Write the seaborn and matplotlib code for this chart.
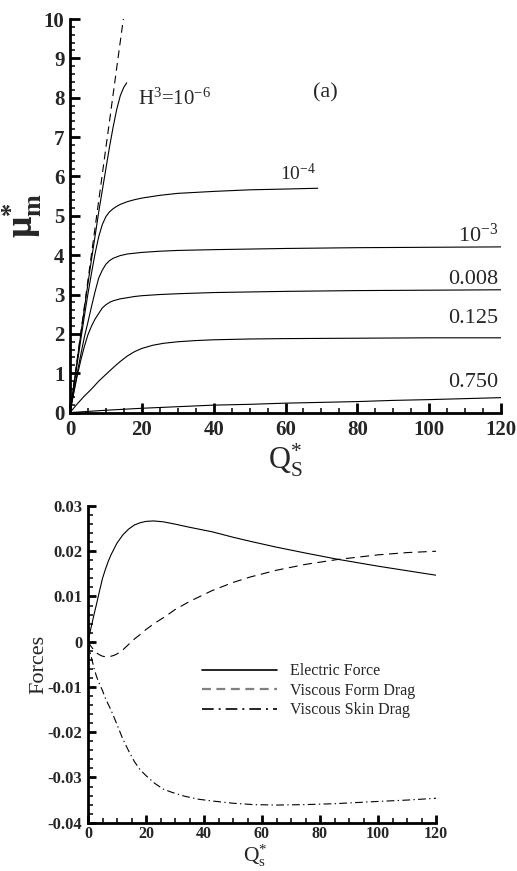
import numpy as np
import pandas as pd
import matplotlib
matplotlib.use("Agg")
import matplotlib.pyplot as plt
from matplotlib.ticker import MultipleLocator, FixedLocator, FixedFormatter
import seaborn as sns

# ---- upper panel: modified mobility vs. surface charge --------------------
limit_x = [0.0, 14.85]
limit_y = [0.0, 10.0]

h6_x = [0, 1, 2, 3, 4, 5, 6, 7, 8, 9, 10, 11, 12, 13, 14, 15, 15.8]
h6_y = [0, 0.67, 1.33, 1.99, 2.64, 3.28, 3.9, 4.5, 5.1, 5.65, 6.2, 6.75, 7.25,
        7.7, 8.05, 8.27, 8.38]

h4_x = [0, 1, 2, 3, 4, 5, 6, 7, 8, 9, 10, 11, 12, 13, 14, 16, 18, 20, 25, 30,
        40, 50, 60, 69]
h4_y = [0, 0.62, 1.24, 1.85, 2.45, 3.02, 3.55, 4.05, 4.47, 4.78, 4.98, 5.1, 5.18,
        5.24, 5.29, 5.36, 5.41, 5.45, 5.52, 5.57, 5.62, 5.66, 5.68, 5.7]

h3_x = [0, 1, 2, 3, 4, 5, 6, 7, 8, 9, 10, 11, 12, 14, 16, 18, 20, 25, 30, 40,
        60, 80, 100, 120]
h3_y = [0, 0.5, 1.0, 1.47, 1.92, 2.3, 2.7, 3.08, 3.42, 3.62, 3.77, 3.86, 3.92,
        3.99, 4.03, 4.05, 4.07, 4.1, 4.12, 4.14, 4.17, 4.19, 4.2, 4.21]

h008_x = [0, 1, 2, 3, 4, 5, 6, 7, 8, 9, 10, 11, 12, 14, 16, 18, 20, 25, 30, 40,
          60, 80, 100, 120]
h008_y = [0, 0.48, 0.93, 1.33, 1.68, 1.98, 2.2, 2.38, 2.52, 2.66, 2.74, 2.8, 2.84,
          2.89, 2.92, 2.95, 2.97, 3.0, 3.02, 3.05, 3.08, 3.1, 3.11, 3.12]

h125_x = [0, 1, 2, 3, 4, 5, 6, 8, 10, 12, 14, 16, 18, 20, 23, 26, 30, 35, 40,
          50, 60, 80, 100, 120]
h125_y = [0, 0.11, 0.22, 0.32, 0.42, 0.51, 0.6, 0.8, 0.97, 1.14, 1.3, 1.44, 1.55,
          1.63, 1.71, 1.76, 1.8, 1.83, 1.85, 1.87, 1.88, 1.89, 1.9, 1.9]

h750_x = [0, 5, 10, 15, 20, 30, 40, 50, 60, 70, 80, 90, 100, 110, 120]
h750_y = [0, 0.03, 0.06, 0.085, 0.11, 0.15, 0.19, 0.21, 0.24, 0.26, 0.28, 0.31,
          0.33, 0.355, 0.38]

top_xticks = [0, 20, 40, 60, 80, 100, 120]
top_yticks = [0, 1, 2, 3, 4, 5, 6, 7, 8, 9, 10]

# ---- lower panel: force components ---------------------------------------
ef_x = [0, 1, 2, 3, 4, 5, 6, 7, 8, 10, 12, 14, 16, 18, 20, 22.6, 26, 30, 35,
        42.8, 50, 55.9, 65, 75, 86.3, 100, 110, 120]
ef_y = [0, 0.0030, 0.0058, 0.0085, 0.0113, 0.0140, 0.0160, 0.0178, 0.0193,
        0.0218, 0.0236, 0.0249, 0.0258, 0.0263, 0.0266, 0.0267, 0.0265, 0.0260,
        0.0253, 0.0243, 0.0231, 0.0222, 0.0209, 0.0196, 0.0182, 0.0167, 0.0157,
        0.0147]

fd_x = [0, 1, 2, 3, 4, 5, 6, 7, 8, 9, 10, 12, 14, 16, 18, 20, 23, 26.7, 30, 35,
        42.8, 50, 55.9, 65, 75, 86.3, 100, 110, 120]
fd_y = [0, -0.0010, -0.0018, -0.0025, -0.0029, -0.0032, -0.0033, -0.0033,
        -0.0032, -0.0030, -0.0027, -0.0018, -0.0006, 0.0006, 0.0016, 0.0027,
        0.0041, 0.0056, 0.0071, 0.0089, 0.0113, 0.0131, 0.0143, 0.0158, 0.0171,
        0.0182, 0.0192, 0.0197, 0.0200]

sd_x = [0, 1, 2, 3, 4, 5, 6, 8, 10, 12, 14, 16, 18, 20, 23, 26, 29, 33, 38,
        42.8, 50, 57, 65, 75, 85, 100, 110, 120]
sd_y = [0, -0.0030, -0.0057, -0.0078, -0.0094, -0.0108, -0.0125, -0.0152,
        -0.0183, -0.0215, -0.0241, -0.0265, -0.0283, -0.0296, -0.0313, -0.0326,
        -0.0333, -0.0341, -0.0348, -0.0352, -0.0357, -0.0360, -0.0361, -0.0360,
        -0.0358, -0.0353, -0.0350, -0.0346]

bot_xticks = [0, 20, 40, 60, 80, 100, 120]
bot_yticks = [-0.04, -0.03, -0.02, -0.01, 0, 0.01, 0.02, 0.03]
bot_ylabels = ["-0.04", "-0.03", "-0.02", "-0.01", "0", "0.01", "0.02", "0.03"]

# ---- style -----------------------------------------------------------------
sns.set_theme(style="ticks")
plt.rcParams["font.family"] = ["Liberation Serif", "DejaVu Serif"]
plt.rcParams["mathtext.fontset"] = "custom"
plt.rcParams["mathtext.rm"] = "Liberation Serif"
plt.rcParams["mathtext.it"] = "Liberation Serif:italic"
plt.rcParams["mathtext.bf"] = "Liberation Serif:bold"
plt.rcParams["mathtext.default"] = "regular"

fig = plt.figure(figsize=(5.17, 8.71), dpi=100)
ax1 = fig.add_axes([70 / 517, 1 - 412.6 / 871, 431 / 517, 393.6 / 871])
ax2 = fig.add_axes([88 / 517, 1 - 822.7 / 871, 348 / 517, 316.7 / 871])

LW = 0.8


def curve(ax, xs, ys, **kw):
    df = pd.DataFrame({"x": xs, "y": ys})
    sns.lineplot(data=df, x="x", y="y", ax=ax, color="black", lw=LW,
                 sort=False, estimator=None, **kw)


curve(ax1, limit_x, limit_y, dashes=(7, 4.5))
for xs, ys in [(h6_x, h6_y), (h4_x, h4_y), (h3_x, h3_y),
               (h008_x, h008_y), (h125_x, h125_y), (h750_x, h750_y)]:
    curve(ax1, xs, ys)

curve(ax2, ef_x, ef_y, label="Electric Force")
curve(ax2, fd_x, fd_y, dashes=(8, 5), label="Viscous Form Drag")
curve(ax2, sd_x, sd_y, dashes=(7, 3, 1.2, 3), label="Viscous Skin Drag")


def frame(ax, major_len, tick_fs, xpad, ypad):
    for s in ["top", "right"]:
        ax.spines[s].set_visible(False)
    for s in ["left", "bottom"]:
        ax.spines[s].set_linewidth(2.0)
        ax.spines[s].set_color("black")
    ax.tick_params(which="major", direction="in", length=major_len, width=2.0,
                   color="black", labelsize=tick_fs)
    ax.tick_params(axis="x", which="major", pad=xpad)
    ax.tick_params(axis="y", which="major", pad=ypad)
    ax.tick_params(which="minor", direction="in", length=major_len * 0.55,
                   width=1.1, color="black")
    for lab in ax.get_xticklabels() + ax.get_yticklabels():
        lab.set_fontweight("bold")
    ax.grid(False)


ax1.set_xlim(0, 120)
ax1.set_ylim(0, 10)
ax1.xaxis.set_major_locator(FixedLocator(top_xticks))
ax1.yaxis.set_major_locator(FixedLocator(top_yticks))
ax1.xaxis.set_minor_locator(MultipleLocator(5))
ax1.yaxis.set_minor_locator(MultipleLocator(0.2))
frame(ax1, 7, 15, 5.5, 4)

ax2.set_xlim(0, 120)
ax2.set_ylim(-0.04, 0.03)
ax2.xaxis.set_major_locator(FixedLocator(bot_xticks))
ax2.yaxis.set_major_locator(FixedLocator(bot_yticks))
ax2.yaxis.set_major_formatter(FixedFormatter(bot_ylabels))
ax2.xaxis.set_minor_locator(MultipleLocator(5))
ax2.yaxis.set_minor_locator(MultipleLocator(0.002))
frame(ax2, 6, 12, 2.5, 4)
ax2.tick_params(axis="x", which="major", labelsize=11.5)
for lab in ax2.get_xticklabels():
    lab.set_fontweight("bold")

# axis titles
ax1.set_ylabel(r"$\mathregular{μ^{*}_{m}}$", fontsize=27, fontweight="bold")
ax1.yaxis.set_label_coords(-0.06, 0.5)
ax1.set_xlabel(r"$Q^{*}_{S}$", fontsize=22)
ax1.xaxis.set_label_coords(0.5, -0.075)

ax2.set_ylabel("Forces", fontsize=16)
ax2.yaxis.set_label_coords(-0.115, 0.5)
ax2.set_xlabel(r"$Q^{*}_{s}$", fontsize=15.5)
ax2.xaxis.set_label_coords(0.48, -0.063)

# curve labels
ax1.text(18.9, 7.81, r"$H^{3}$=10$^{-6}$", fontsize=15, ha="left", va="baseline")
ax1.text(71, 8.12, "(a)", fontsize=16, ha="center", va="center")
ax1.text(68.5, 5.9, r"10$^{-4}$", fontsize=14, ha="right", va="baseline")
ax1.text(119.3, 4.33, r"10$^{-3}$", fontsize=16, ha="right", va="baseline")
ax1.text(119.3, 3.26, "0.008", fontsize=16, ha="right", va="baseline")
ax1.text(119.3, 2.28, "0.125", fontsize=16, ha="right", va="baseline")
ax1.text(119.3, 0.65, "0.750", fontsize=16, ha="right", va="baseline")

leg = ax2.legend(loc="upper left", bbox_to_anchor=(0.328, 0.503), frameon=False,
                 fontsize=11.5, handlelength=4.7, handletextpad=0.8,
                 labelspacing=0.22, borderpad=0, borderaxespad=0)
leg.legend_handles[1].set_color("gray")
leg.legend_handles[1].set_linewidth(1.6)
leg.legend_handles[1].set_dashes((4, 2.5))
leg.legend_handles[0].set_linewidth(1.2)
leg.legend_handles[2].set_linewidth(1.2)

fig.savefig("out.png", dpi=100)
